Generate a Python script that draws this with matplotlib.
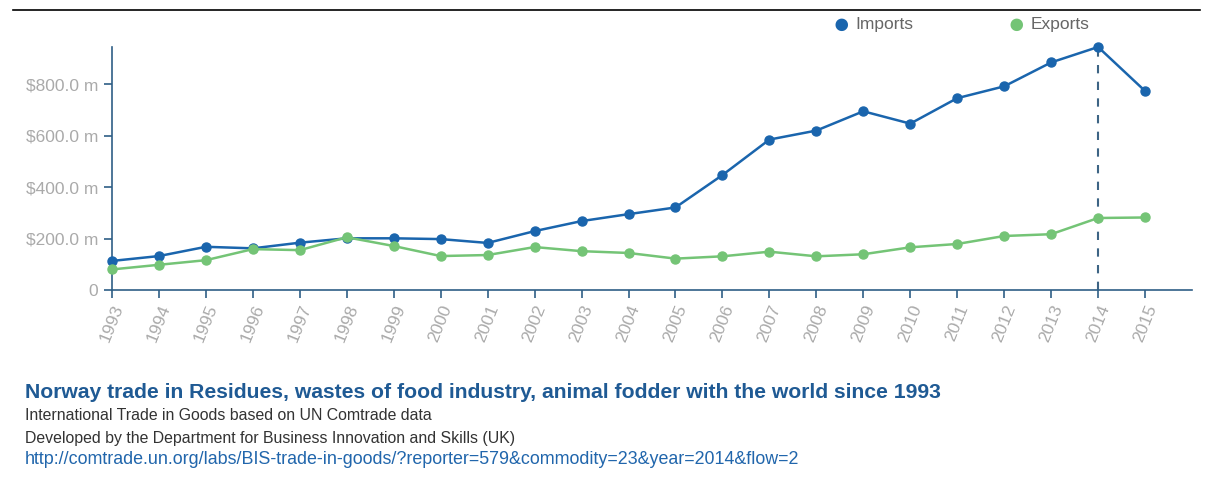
import matplotlib
matplotlib.use("Agg")
import matplotlib.pyplot as plt
from matplotlib.ticker import FuncFormatter

years = list(range(1993, 2016))
imports = [113, 132, 168, 162, 184, 201, 201, 198, 183, 229, 268, 295, 321,
           447, 585, 620, 695, 647, 746, 792, 885, 945, 774]
exports = [80, 98, 116, 159, 155, 205, 171, 132, 136, 167, 151, 144, 122,
           131, 149, 131, 139, 166, 179, 210, 217, 280, 282]
y_ticks = [0, 200, 400, 600, 800]
highlight_year = 2014

title = "Norway trade in Residues, wastes of food industry, animal fodder with the world since 1993"
sub1 = "International Trade in Goods based on UN Comtrade data"
sub2 = "Developed by the Department for Business Innovation and Skills (UK)"
url = "http://comtrade.un.org/labs/BIS-trade-in-goods/?reporter=579&commodity=23&year=2014&flow=2"

plt.rcParams['font.family'] = ['Liberation Sans', 'DejaVu Sans']

imp_c = "#1a65ad"
exp_c = "#74c476"
axis_c = "#2f5f86"
tick_c = "#aaaaaa"

fig = plt.figure(figsize=(12.12, 5.04), dpi=100)
ax = fig.add_axes([112/1212, 1-290/504, (1192-112)/1212, (290-47)/504])

ax.plot(years, imports, color=imp_c, lw=1.8, marker='o', ms=6.5, zorder=3, clip_on=False)
ax.plot(years, exports, color=exp_c, lw=1.8, marker='o', ms=6.5, zorder=3, clip_on=False)
hi = years.index(highlight_year)
ax.vlines(highlight_year, 0, imports[hi], colors="#3d6485", linestyles=(0, (4, 4)), lw=1.5, zorder=2)

ax.set_xlim(1993, 2016)
ax.set_ylim(0, 945)
ax.set_xticks(years)
ax.set_xticklabels([str(y) for y in years], rotation=68, ha='right', rotation_mode='anchor')
ax.set_yticks(y_ticks)
ax.yaxis.set_major_formatter(FuncFormatter(lambda v, p: "0" if v == 0 else f"${v:.1f} m"))
for s in ['top', 'right']:
    ax.spines[s].set_visible(False)
for s in ['left', 'bottom']:
    ax.spines[s].set_color(axis_c)
    ax.spines[s].set_linewidth(1.2)
ax.tick_params(axis='both', colors=axis_c, labelcolor=tick_c, length=6, width=1.2)
ax.tick_params(axis='y', labelsize=12.5, pad=4)
ax.tick_params(axis='x', labelsize=12.5, pad=3)

# top rule
fig.add_artist(plt.Line2D([13/1212, 1200/1212], [1-10/504, 1-10/504], color='black', lw=1.2))

# legend
fig.text(841/1212, 1-25/504, "\u25CF", color=imp_c, fontsize=21, ha='center', va='center')
fig.text(855/1212, 1-25/504, "Imports", color="#666666", fontsize=12.5, ha='left', va='center')
fig.text(1016/1212, 1-25/504, "\u25CF", color=exp_c, fontsize=21, ha='center', va='center')
fig.text(1031/1212, 1-25/504, "Exports", color="#666666", fontsize=12.5, ha='left', va='center')

fig.text(25/1212, 1-393/504, title, color="#1f5a94", fontsize=15.2, fontweight='bold', ha='left', va='center')
fig.text(25/1212, 1-415/504, sub1, color="#333333", fontsize=11.4, ha='left', va='center')
fig.text(25/1212, 1-438/504, sub2, color="#333333", fontsize=11.4, ha='left', va='center')
fig.text(25/1212, 1-460/504, url, color="#2166ac", fontsize=12.9, ha='left', va='center')

fig.savefig("out.png", dpi=100, facecolor='white')
